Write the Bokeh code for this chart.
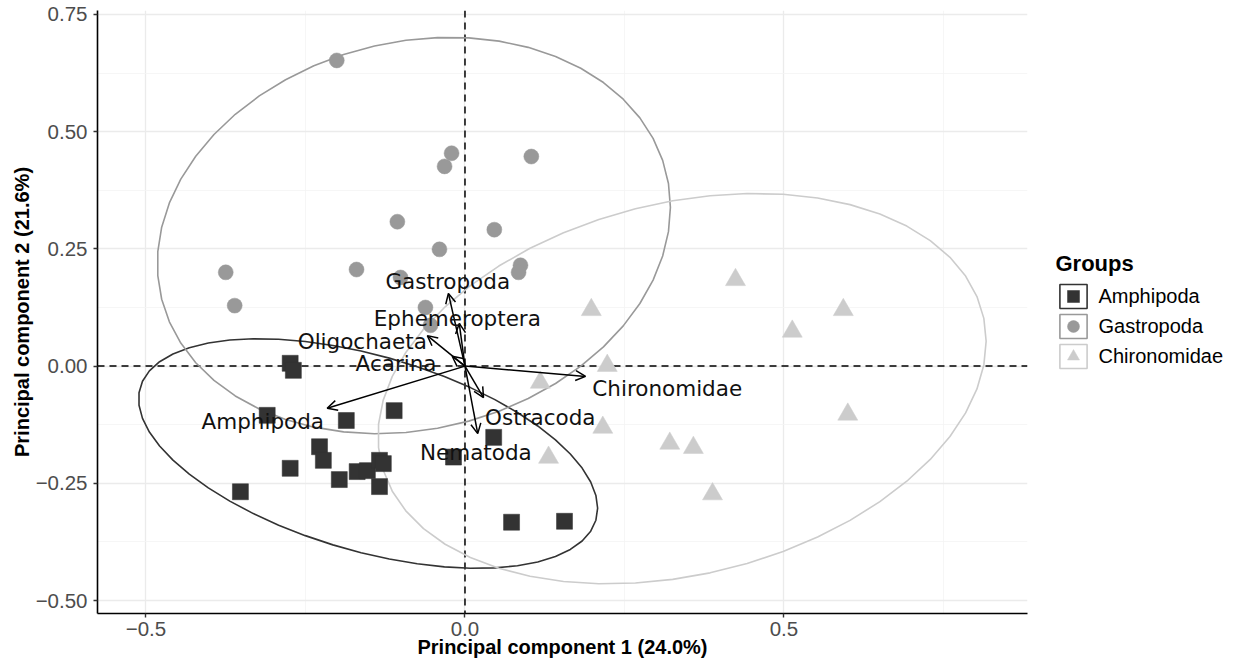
import numpy as np
from bokeh.plotting import figure
from bokeh.layouts import row
from bokeh.models import (Range1d, FixedTicker, Arrow, OpenHead, Legend, LegendItem,
                          Span, ColumnDataSource, CustomJSTickFormatter)
from bokeh.embed import file_html
from bokeh.resources import INLINE
from bokeh.core.properties import value

# ---------------- data ----------------
groups = ["Amphipoda", "Gastropoda", "Chironomidae"]
group_colors = ["#333333", "#999999", "#cccccc"]
group_markers = ["square", "circle", "triangle"]
group_sizes = [16, 15, 20]

amph_pc1 = [-0.274, -0.269, -0.310, -0.186, -0.111, -0.228, -0.222, -0.274, -0.352, -0.197,
            -0.169, -0.153, -0.134, -0.128, -0.134, -0.018, 0.045, 0.073, 0.156]
amph_pc2 = [0.006, -0.009, -0.105, -0.116, -0.095, -0.172, -0.201, -0.218, -0.268, -0.242,
            -0.225, -0.223, -0.201, -0.208, -0.257, -0.194, -0.152, -0.333, -0.331]

gast_pc1 = [-0.201, -0.375, -0.361, -0.170, -0.106, -0.101, -0.040, -0.032, -0.021, 0.104,
            0.046, 0.087, 0.084, -0.062, -0.054]
gast_pc2 = [0.652, 0.200, 0.129, 0.206, 0.308, 0.189, 0.249, 0.426, 0.454, 0.447,
            0.291, 0.215, 0.200, 0.125, 0.087]

chir_pc1 = [0.198, 0.424, 0.513, 0.593, 0.600, 0.223, 0.118, 0.216, 0.131, 0.321, 0.358, 0.388]
chir_pc2 = [0.120, 0.184, 0.074, 0.120, -0.103, 0.001, -0.035, -0.131, -0.195, -0.165, -0.174, -0.273]

variables = ["Gastropoda", "Ephemeroptera", "Oligochaeta", "Acarina",
             "Chironomidae", "Ostracoda", "Nematoda", "Amphipoda"]
var_pc1 = [-0.026, -0.009, -0.059, -0.020, 0.189, 0.029, 0.020, -0.216]
var_pc2 = [0.155, 0.091, 0.065, 0.021, -0.022, -0.067, -0.144, -0.090]
# label anchor (centre x, text baseline y)
lab_pc1 = [-0.027, -0.012, -0.161, -0.108, 0.317, 0.118, 0.017, -0.317]
lab_pc2 = [0.180, 0.1015, 0.0525, 0.0055, -0.0478, -0.1096, -0.1843, -0.1182]

x_ticks = [-0.5, 0.0, 0.5]
x_minor = [-0.25, 0.25, 0.75]
y_ticks = [-0.5, -0.25, 0.0, 0.25, 0.5, 0.75]
y_minor = [-0.375, -0.125, 0.125, 0.375, 0.625]

x_title = "Principal component 1 (24.0%)"
y_title = "Principal component 2 (21.6%)"
legend_title = "Groups"


# ---------------- normal data ellipse (level 0.95) ----------------
def ellipse_path(xs, ys, level=0.95, segments=51):
    X = np.column_stack([xs, ys])
    center = X.mean(axis=0)
    shape = np.cov(X.T)
    R = np.linalg.cholesky(shape).T
    dfd = len(xs) - 1
    qf = dfd / 2.0 * ((1 - level) ** (-2.0 / dfd) - 1)
    radius = np.sqrt(2 * qf)
    ang = np.arange(segments + 1) * 2 * np.pi / segments
    uc = np.column_stack([np.cos(ang), np.sin(ang)])
    pts = center + radius * (uc @ R)
    return pts[:, 0], pts[:, 1]


# ---------------- main figure ----------------
p = figure(width=1030, height=665,
           x_range=Range1d(-0.5760, 0.8817), y_range=Range1d(-0.5277, 0.7585),
           output_backend="svg", toolbar_location=None,
           min_border_left=97, min_border_right=3, min_border_top=10, min_border_bottom=52)
p.outline_line_color = None
p.background_fill_color = "white"

# grid
p.xaxis.ticker = FixedTicker(ticks=x_ticks, minor_ticks=x_minor)
p.yaxis.ticker = FixedTicker(ticks=y_ticks, minor_ticks=y_minor)
for g in (p.xgrid, p.ygrid):
    g.grid_line_color = "#ebebeb"
    g.grid_line_width = 1.3
    g.minor_grid_line_color = "#f4f4f4"
    g.minor_grid_line_width = 0.8

# axes
p.xaxis.formatter = CustomJSTickFormatter(code="return tick.toFixed(1).replace('-', '\u2212');")
p.yaxis.formatter = CustomJSTickFormatter(code="return tick.toFixed(2).replace('-', '\u2212');")
for ax in (p.xaxis, p.yaxis):
    ax.axis_line_color = "black"
    ax.axis_line_width = 1.6
    ax.major_tick_line_color = "#333333"
    ax.major_tick_line_width = 1.4
    ax.major_tick_in = 0
    ax.major_tick_out = 4
    ax.minor_tick_line_color = None
    ax.major_label_text_font = "Liberation Sans"
    ax.major_label_text_font_size = "20.5px"
    ax.major_label_text_color = "#4d4d4d"
    ax.axis_label_text_font = "Liberation Sans"
    ax.axis_label_text_font_size = "20px"
    ax.axis_label_text_font_style = "bold"
    ax.axis_label_text_color = "black"
p.xaxis.axis_label = x_title
p.yaxis.axis_label = y_title
p.xaxis.major_label_standoff = 4
p.xaxis.axis_label_standoff = -3
p.yaxis.major_label_standoff = 6
p.yaxis.axis_label_standoff = 0

# zero reference lines
p.add_layout(Span(location=0, dimension="width", line_color="black", line_width=1.5,
                  line_dash="7 5", level="underlay"))
p.add_layout(Span(location=0, dimension="height", line_color="black", line_width=1.5,
                  line_dash="7 5", level="underlay"))

# ellipses + points
data = [(amph_pc1, amph_pc2), (gast_pc1, gast_pc2), (chir_pc1, chir_pc2)]
for (xs, ys), col in zip(data, group_colors):
    ex, ey = ellipse_path(xs, ys)
    p.patch(ex, ey, fill_color=None, line_color=col, line_width=1.6)
for (xs, ys), col, mk, sz in zip(data, group_colors, group_markers, group_sizes):
    p.scatter(xs, ys, marker=mk, size=sz, fill_color=col, line_color=col, line_width=0.5)

# loading arrows
arrow_src = ColumnDataSource(dict(x0=[0.0] * len(variables), y0=[0.0] * len(variables),
                                  x1=var_pc1, y1=var_pc2))
p.add_layout(Arrow(source=arrow_src, x_start="x0", y_start="y0", x_end="x1", y_end="y1",
                   line_color="black", line_width=1.5,
                   end=OpenHead(size=10, line_color="black", line_width=1.5)))

lab_src = ColumnDataSource(dict(x=lab_pc1, y=lab_pc2, t=variables))
p.text(x="x", y="y", text="t", source=lab_src, text_align="center",
       text_baseline="alphabetic", text_font=value("DejaVu Sans"),
       text_font_size="21.5px", text_color="#111111", level="overlay")

# ---------------- legend panel ----------------
pl = figure(width=212, height=665, output_backend="svg", toolbar_location=None,
            x_axis_type=None, y_axis_type=None, x_range=Range1d(0, 1), y_range=Range1d(0, 1),
            min_border_left=0, min_border_right=0, min_border_top=0, min_border_bottom=0)
pl.outline_line_color = None
pl.xgrid.visible = False
pl.ygrid.visible = False
items = []
# key renderers: one off-range point each, so only their legend glyphs show
for g, col, mk, sz in zip(groups, group_colors, group_markers, group_sizes):
    er = pl.patch([-9, -8, -8], [-9, -9, -8], fill_color=None, line_color=col, line_width=1.6)
    sr = pl.scatter([-9], [-9], marker=mk, size=sz, fill_color=col, line_color=col,
                    line_width=0.5)
    items.append(LegendItem(label=g, renderers=[er, sr]))
legend = Legend(items=items, title=legend_title, location=(25.5, 242),
                glyph_width=34, glyph_height=30, label_height=30, spacing=0,
                label_standoff=9, padding=0, margin=0, title_standoff=4,
                border_line_color=None, background_fill_alpha=0)
legend.title_text_font = "Liberation Sans"
legend.title_text_font_style = "bold"
legend.title_text_font_size = "22px"
legend.title_text_color = "black"
legend.label_text_font = "Liberation Sans"
legend.label_text_font_size = "20px"
legend.label_text_color = "black"
pl.add_layout(legend)

layout = row(p, pl, spacing=0)
open("out.html", "w").write(file_html(layout, INLINE))
